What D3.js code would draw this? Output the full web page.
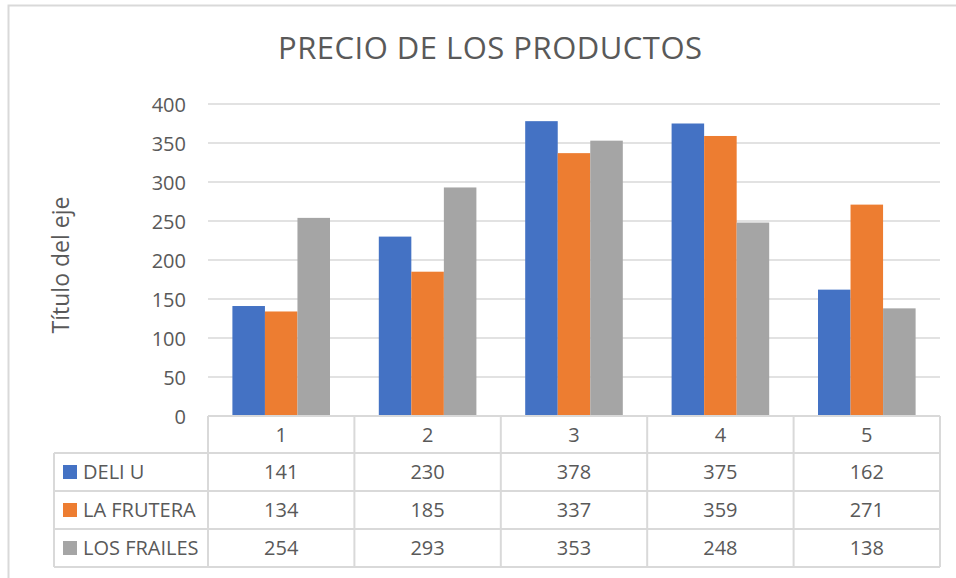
<!DOCTYPE html>
<html><head><meta charset="utf-8">
<script src="https://cdn.jsdelivr.net/npm/d3@7"></script>
<style>body{margin:0;background:#fff;} text{font-family:"Open Sans",sans-serif;fill:#595959;}</style>
</head><body><svg id="c" width="956" height="578"></svg>
<script>
const categories = ["1","2","3","4","5"];
const seriesNames = ["DELI U","LA FRUTERA","LOS FRAILES"];
const deliU = [141,230,378,375,162];
const laFrutera = [134,185,337,359,271];
const losFrailes = [254,293,353,248,138];
const yTicks = [0,50,100,150,200,250,300,350,400];
const colors = ["#4472C4","#ED7D31","#A5A5A5"];
const title = "PRECIO DE LOS PRODUCTOS";
const yTitle = "Título del eje";

const series = [deliU, laFrutera, losFrailes];
const svg = d3.select("#c");
const grid = "#d9d9d9";

svg.append("rect").attr("x",8.5).attr("y",5.5).attr("width",960).attr("height",600)
  .attr("fill","#fff").attr("stroke",grid).attr("stroke-width",2);

const x = d3.scaleBand().domain(categories).range([208,940]);
const y = d3.scaleLinear().domain([0,400]).range([416,104]);
const xs = d3.scaleBand().domain(seriesNames).range([x.bandwidth()/6, x.bandwidth()*5/6]);

// gridlines
svg.append("g").selectAll("line").data(yTicks.filter(d=>d>0)).join("line")
  .attr("x1",208).attr("x2",940).attr("y1",d=>y(d)).attr("y2",d=>y(d))
  .attr("stroke",grid).attr("stroke-width",1.5);

// y axis labels
const yAxis = d3.axisLeft(y).tickValues(yTicks).tickSize(0).tickPadding(0);
const ga = svg.append("g").attr("transform","translate(186,0)").call(yAxis);
ga.select(".domain").remove();
ga.selectAll("text").attr("font-size",20).attr("fill","#595959").attr("font-family","Open Sans").attr("dy","0.35em");

// bars
seriesNames.forEach((s,si)=>{
  svg.append("g").selectAll("rect").data(series[si]).join("rect")
    .attr("x",(d,i)=>x(categories[i])+xs(s))
    .attr("width",xs.bandwidth())
    .attr("y",d=>y(d)).attr("height",d=>y(0)-y(d))
    .attr("fill",colors[si]);
});

// data table
const rowY = [416,453,491,529,567];
const tl = svg.append("g").attr("stroke",grid).attr("stroke-width",2);
tl.append("line").attr("x1",208).attr("x2",940).attr("y1",416).attr("y2",416);
[453,491,529,567].forEach(v=>tl.append("line").attr("x1",54).attr("x2",940).attr("y1",v).attr("y2",v));
tl.append("line").attr("x1",54).attr("x2",54).attr("y1",453).attr("y2",567);
categories.forEach(c=>tl.append("line").attr("x1",x(c)).attr("x2",x(c)).attr("y1",416).attr("y2",567));
tl.append("line").attr("x1",940).attr("x2",940).attr("y1",416).attr("y2",567);

svg.append("g").selectAll("text").data(categories).join("text")
  .attr("x",d=>x(d)+x.bandwidth()/2).attr("y",(rowY[0]+rowY[1])/2).attr("dy","0.35em")
  .attr("text-anchor","middle").attr("font-size",20).text(d=>d);

seriesNames.forEach((s,si)=>{
  const cy = (rowY[si+1]+rowY[si+2])/2;
  svg.append("rect").attr("x",63).attr("y",cy-7).attr("width",14).attr("height",14).attr("fill",colors[si]);
  svg.append("text").attr("x",83).attr("y",cy).attr("dy","0.35em").attr("font-size",20).text(s);
  svg.append("g").selectAll("text").data(series[si]).join("text")
    .attr("x",(d,i)=>x(categories[i])+x.bandwidth()/2).attr("y",cy).attr("dy","0.35em")
    .attr("text-anchor","middle").attr("font-size",20).text(d=>d);
});

// titles
svg.append("text").attr("x",490).attr("y",48).attr("dy","0.35em").attr("text-anchor","middle")
  .attr("font-size",31).attr("textLength",424).attr("lengthAdjust","spacing").text(title);
svg.append("text").attr("transform","translate(61,265) rotate(-90)").attr("dy","0.35em")
  .attr("text-anchor","middle").attr("font-size",23).text(yTitle);
</script></body></html>
